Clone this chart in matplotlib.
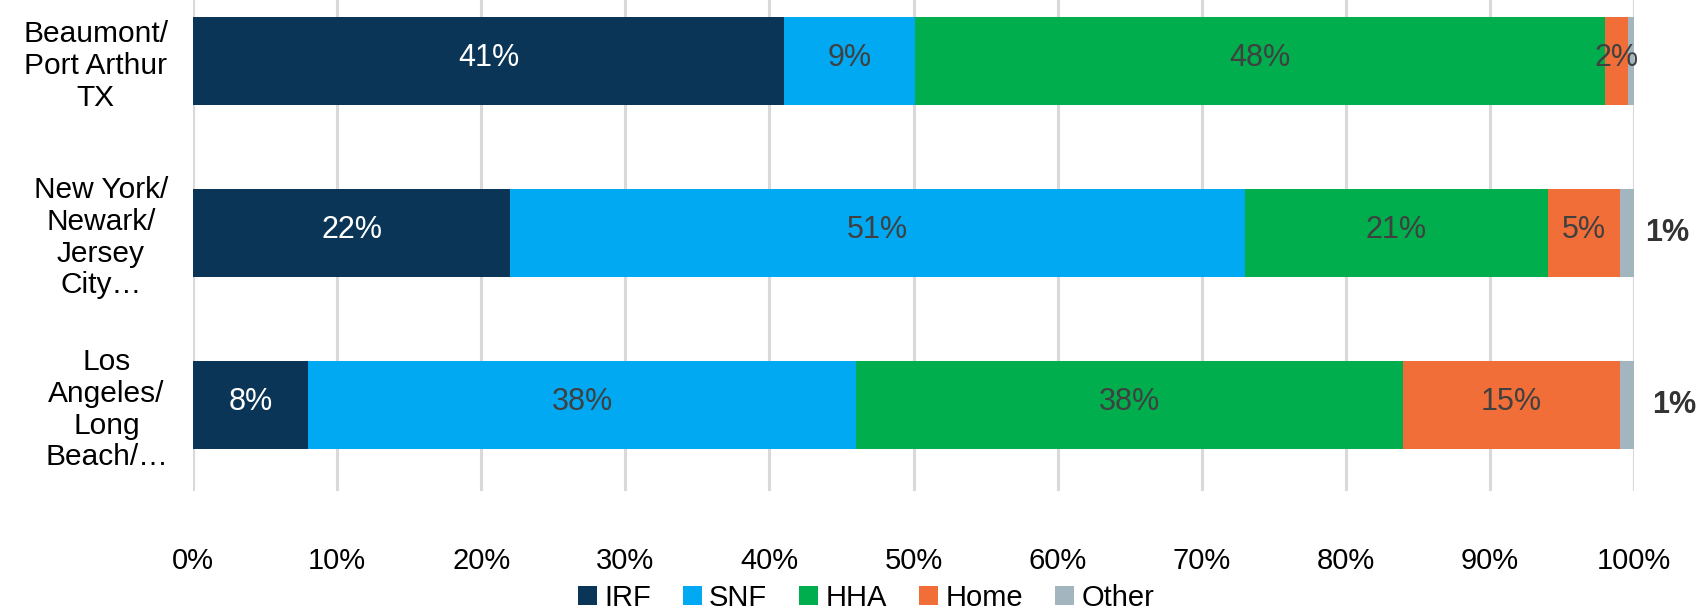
import matplotlib
matplotlib.use("Agg")
import matplotlib.pyplot as plt
import numpy as np

plt.rcParams['font.family'] = ['Liberation Sans', 'DejaVu Sans']

categories = ["Beaumont/\nPort Arthur\nTX", "New York/\nNewark/\nJersey\nCity…", "Los\nAngeles/\nLong\nBeach/…"]
series_names = ["IRF", "SNF", "HHA", "Home", "Other"]
irf = [41.0, 22.0, 8.0]
snf = [9.1, 51.0, 38.0]
hha = [47.9, 21.0, 38.0]
home = [1.6, 5.0, 15.0]
other = [0.4, 1.0, 1.0]
colors = ["#0A3556", "#00A9F2", "#00AE4E", "#F26E38", "#A3B5BF"]
label_colors = ["white", "#404040", "#404040", "#404040", "#404040"]
xticks = [0, 10, 20, 30, 40, 50, 60, 70, 80, 90, 100]

W, H = 1698, 610
fig = plt.figure(figsize=(W / 100, H / 100), dpi=100)
ax = fig.add_axes([193 / W, (H - 491) / H, (1634 - 193) / W, 516 / H])

y = np.arange(len(categories))
data = [irf, snf, hha, home, other]
left = np.zeros(len(categories))
for name, vals, col, lc in zip(series_names, data, colors, label_colors):
    vals = np.array(vals)
    bars = ax.barh(y, vals, left=left, height=0.51, color=col, label=name, zorder=3)
    if name != "Other":
        for b, v in zip(bars, vals):
            if round(v) >= 1:
                ax.text(b.get_x() + b.get_width() / 2, b.get_y() + b.get_height() / 2 - 0.02,
                        f"{round(v):.0f}%", ha="center", va="center", color=lc,
                        fontsize=22, zorder=4)
    else:
        offs = [0, 24, 29]
        for i, (b, v) in enumerate(zip(bars, vals)):
            if round(v) >= 1:
                ax.annotate(f"{round(v):.0f}%", xy=(100, b.get_y() + b.get_height() / 2),
                            xytext=(offs[i], 0), textcoords="offset points",
                            ha="center", va="center", color="#333333",
                            fontsize=22, fontweight="bold", annotation_clip=False)
    left += vals

ax.set_xlim(0, 100)
ax.set_ylim(2.5, -0.5)
ax.set_yticks(y)
ax.set_yticklabels(categories, fontsize=21.5, color="black", multialignment="center",
                   linespacing=1.17)
ax.set_xticks(xticks)
ax.set_xticklabels([f"{t}%" for t in xticks], fontsize=21, color="black")
ax.tick_params(axis="x", length=0, pad=40)
ax.tick_params(axis="y", length=0, pad=18)
ax.grid(axis="x", color="#D9D9D9", linewidth=2.2, zorder=0)
ax.set_axisbelow(True)
for s in ax.spines.values():
    s.set_visible(False)

fig.legend(loc="center", bbox_to_anchor=(866 / W, 12 / H), ncol=5, frameon=False,
           fontsize=21, handlelength=0.65, handleheight=0.65, handletextpad=0.25,
           columnspacing=1.1)

fig.savefig("out.png", dpi=100)
